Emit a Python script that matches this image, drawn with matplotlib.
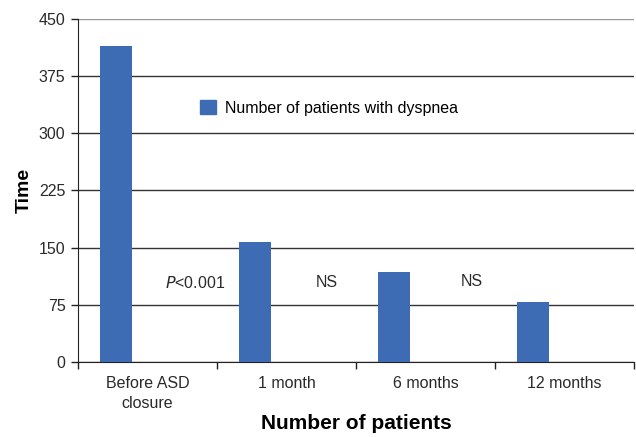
import matplotlib
matplotlib.use("Agg")
import matplotlib.pyplot as plt
from matplotlib.patches import Patch

plt.rcParams['font.family'] = ['Liberation Sans', 'DejaVu Sans']

categories = ["Before ASD\nclosure", "1 month", "6 months", "12 months"]
values = [415, 158, 118, 79]
series_name = "Number of patients with dyspnea"
annotations = ["P<0.001", "NS", "NS"]
yticks = [0, 75, 150, 225, 300, 375, 450]

color = "#3d6bb4"
txt = "#2a2a2a"
fs = 11.5

fig = plt.figure(figsize=(6.36, 4.37), dpi=100)
ax = fig.add_axes([0.1226, 0.1716, 0.8745, 0.785])

n = len(categories)
xs = list(range(n))
bar_w = 0.23
offset = -0.5 + 0.273
ax.bar([x + offset for x in xs], values, width=bar_w, color=color, zorder=3)

ax.set_xlim(-0.5, n - 0.5)
ax.set_ylim(0, 450)
ax.set_yticks(yticks)
ax.set_yticklabels([str(t) for t in yticks], fontsize=fs, color=txt)
ax.yaxis.grid(True, color="#333333", linewidth=1.0, zorder=0)
ax.set_axisbelow(True)
# top gridline lighter
ax.get_ygridlines()[-1].set_color("#999999")

# Major ticks at group boundaries, labels at centers
ax.set_xticks([x - 0.5 for x in range(n + 1)])
ax.set_xticklabels([])
ax.set_xticks(xs, minor=True)
ax.set_xticklabels(categories, minor=True, fontsize=fs, color=txt, linespacing=1.45)
ax.tick_params(axis='x', which='minor', length=0, pad=10)
ax.tick_params(axis='x', which='major', length=5, width=1, color="#222222", direction='out')
ax.tick_params(axis='y', length=5, width=1, color="#222222", pad=4)

for s in ['top', 'right']:
    ax.spines[s].set_visible(False)
ax.spines['left'].set_color("#222222")
ax.spines['bottom'].set_color("#222222")

# annotations between groups
ann_x = [0.34, 1.29, 2.33]
ann_y = [104, 104, 106]
ax.text(ann_x[0], ann_y[0], r"$\it{P}$<0.001", fontsize=fs, ha='center', va='center', color=txt)
ax.text(ann_x[1], ann_y[1], annotations[1], fontsize=fs, ha='center', va='center', color=txt)
ax.text(ann_x[2], ann_y[2], annotations[2], fontsize=fs, ha='center', va='center', color=txt)

ax.legend(handles=[Patch(color=color, label=series_name)], loc='center left',
          bbox_to_anchor=(0.219, 0.741), frameon=False, fontsize=fs,
          handlelength=1.0, handleheight=1.0, handletextpad=0.55,
          borderpad=0, borderaxespad=0)

ax.set_ylabel("Time", fontsize=14, fontweight='bold')
ax.yaxis.set_label_coords(-0.081, 0.5)
ax.set_xlabel("Number of patients", fontsize=15, fontweight='bold')
ax.xaxis.set_label_coords(0.5, -0.152)

fig.savefig("out.png", dpi=100)
